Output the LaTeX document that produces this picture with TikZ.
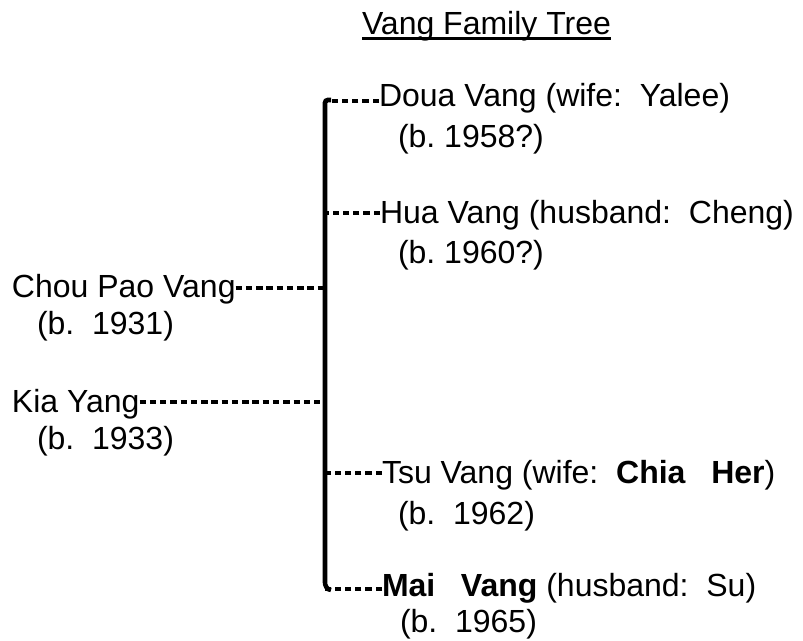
\documentclass[tikz,border=0pt]{standalone}
\usepackage{fontspec}
\setmainfont{Liberation Sans}
\frenchspacing
\begin{document}
\begin{tikzpicture}[x=0.75pt,y=-0.75pt,
  lbl/.style={anchor=base west,inner sep=0pt,outer sep=0pt,font=\fontsize{24}{28}\selectfont\frenchspacing},
  dashln/.style={line width=2.6pt,dash pattern=on 4.8pt off 2.9pt},
  barln/.style={line width=3.4pt,rounded corners=2pt},
  ulin/.style={line width=1.6pt}]
\useasboundingbox (0,0) rectangle (803,640);

% title
\node[lbl] (title) at (362,34) {Vang Family Tree};
\coordinate (ul) at (0,38.5);
\draw[ulin] (title.west |- ul) -- (title.east |- ul);

% parents
\node[lbl] (chou) at (12,297) {Chou Pao Vang};
\node[lbl] (choub) at (37,334) {(b.\ \ 1931)};
\node[lbl] (kia) at (12,412) {Kia Yang};
\node[lbl] (kiab) at (37,449) {(b.\ \ 1933)};

% children
\node[lbl] (doua) at (379,106) {Doua Vang (wife:\ \ Yalee)};
\node[lbl] (douab) at (398,147) {(b. 1958?)};
\node[lbl] (hua) at (380,223) {Hua Vang (husband:\ \ Cheng)};
\node[lbl] (huab) at (398,263) {(b. 1960?)};
\node[lbl] (tsu) at (382,483) {Tsu Vang (wife:\ \ \textbf{Chia}\hspace{0.8em}\textbf{Her})};
\node[lbl] (tsub) at (398,524) {(b.\ \ 1962)};
\node[lbl] (mai) at (382,596) {\textbf{Mai}\hspace{0.8em}\textbf{Vang} (husband:\ \ Su)};
\node[lbl] (maib) at (400,632) {(b.\ \ 1965)};

% vertical bar
\draw[barln] (331,100) -- (325,100) -- (325,580) to[out=-90,in=180] (331,590);

% junctions on the bar
\coordinate (jd) at (325,101);
\coordinate (jh) at (325,213);
\coordinate (jc) at (325,288);
\coordinate (jk) at (325,402);
\coordinate (jt) at (325,473);
\coordinate (jm) at (325,589);

% connectors
\draw[dashln] (chou.east |- jc) -- (jc);
\draw[dashln] (kia.east |- jk) -- (jk);
\draw[dashln] (doua.west |- jd) -- (jd);
\draw[dashln] (hua.west |- jh) -- (jh);
\draw[dashln] (tsu.west |- jt) -- (jt);
\draw[dashln] (mai.west |- jm) -- (jm);
\end{tikzpicture}
\end{document}
